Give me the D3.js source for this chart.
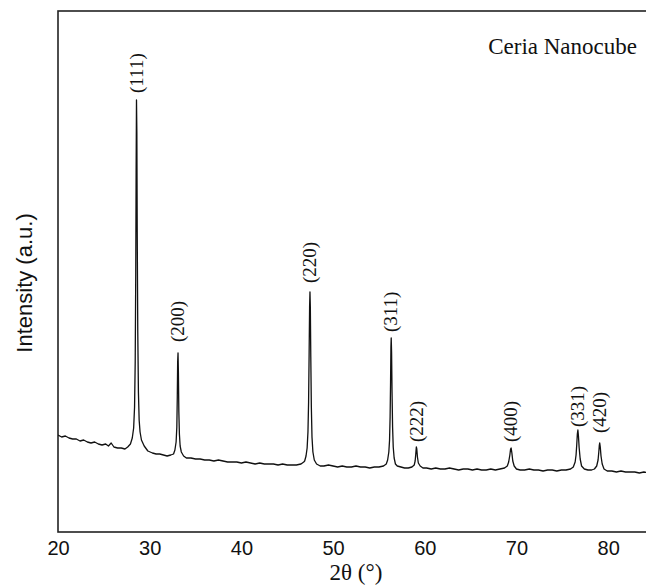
<!DOCTYPE html>
<html>
<head>
<meta charset="utf-8">
<script src="https://d3js.org/d3.v7.min.js"></script>
<style>
  body { margin: 0; background: #fff; }
  svg { display: block; }
</style>
</head>
<body>
<div id="container"></div>
<script>
  // DATA (2theta in degrees, intensity in arbitrary units)
  const xTicks = [20, 30, 40, 50, 60, 70, 80];
  const peakAngles = [28.56, 33.09, 47.48, 56.34, 59.08, 69.42, 76.7, 79.08];
  const peakLabels = ["(111)", "(200)", "(220)", "(311)", "(222)", "(400)", "(331)", "(420)"];
  const labelBase = [439, 190, 249, 200, 90, 90, 105, 99];
  const sampleName = "Ceria Nanocube";

  const scan = [
    [20.0, 97], [20.4, 95], [20.8, 96], [21.2, 94], [21.6, 93], [22.0, 93], [22.4, 91],
    [22.8, 92], [23.2, 90], [23.6, 89], [24.0, 90], [24.4, 88], [24.8, 87], [25.2, 88],
    [25.5, 86], [25.8, 89], [26.1, 85], [26.5, 84], [26.9, 84], [27.3, 83], [27.6, 85],
    [27.9, 88], [28.1, 94], [28.25, 104], [28.35, 125], [28.42, 170], [28.48, 260],
    [28.52, 360], [28.56, 432], [28.6, 400], [28.64, 300], [28.7, 200], [28.77, 140],
    [28.85, 112], [28.95, 100], [29.1, 92], [29.4, 86], [29.8, 81], [30.3, 79],
    [30.7, 78], [31.1, 78], [31.5, 77], [31.9, 76], [32.3, 77], [32.6, 78],
    [32.75, 82], [32.88, 90], [32.96, 105], [33.01, 135], [33.05, 170], [33.09, 179],
    [33.13, 160], [33.18, 120], [33.24, 98], [33.32, 86], [33.45, 80], [33.7, 76],
    [34.0, 74], [34.5, 74], [35.0, 73], [35.5, 73], [36.0, 72], [36.5, 72], [37.0, 71],
    [37.5, 72], [38.0, 71], [38.5, 70], [39.0, 70], [39.5, 70], [40.0, 69], [40.5, 70],
    [41.0, 69], [41.5, 68], [42.0, 69], [42.5, 68], [43.0, 68], [43.5, 68], [44.0, 67],
    [44.5, 68], [45.0, 67], [45.5, 67], [46.0, 67], [46.5, 68], [46.8, 70],
    [46.9, 71], [47.05, 76], [47.17, 84], [47.26, 100], [47.33, 130], [47.39, 180],
    [47.44, 225], [47.48, 240], [47.52, 225], [47.57, 175], [47.63, 125], [47.7, 95],
    [47.8, 80], [47.95, 72], [48.2, 68], [48.6, 66], [49.0, 66], [49.5, 67], [50.0, 66],
    [50.5, 65], [51.0, 66], [51.5, 65], [52.0, 65], [52.5, 66], [53.0, 65], [53.5, 65],
    [54.0, 64], [54.5, 65], [55.0, 65], [55.5, 66], [55.8, 68],
    [55.95, 72], [56.08, 80], [56.16, 92], [56.22, 115], [56.27, 150], [56.31, 185],
    [56.34, 194], [56.38, 180], [56.43, 140], [56.49, 105], [56.56, 85], [56.66, 74],
    [56.8, 68], [57.0, 66], [57.4, 65], [57.8, 64], [58.2, 64], [58.6, 65], [58.85, 67],
    [58.95, 71], [59.02, 78], [59.08, 85], [59.13, 83], [59.2, 75], [59.3, 69],
    [59.5, 66], [59.8, 64], [60.2, 64], [60.7, 63], [61.2, 64], [61.7, 63], [62.2, 63],
    [62.7, 64], [63.2, 63], [63.7, 62], [64.2, 63], [64.7, 63], [65.2, 62], [65.7, 63],
    [66.2, 62], [66.7, 62], [67.2, 63], [67.7, 62], [68.2, 63], [68.7, 64], [69.0, 66],
    [69.15, 70], [69.28, 77], [69.36, 83], [69.42, 84], [69.5, 79], [69.6, 71],
    [69.75, 66], [70.0, 63], [70.4, 62], [70.9, 62], [71.4, 63], [71.9, 62], [72.4, 62],
    [72.9, 61], [73.4, 62], [73.9, 62], [74.4, 61], [74.9, 62], [75.4, 62], [75.9, 63],
    [76.2, 65], [76.4, 70], [76.5, 77], [76.58, 88], [76.64, 98], [76.7, 102],
    [76.76, 96], [76.84, 84], [76.95, 73], [77.1, 66], [77.4, 63], [77.8, 62],
    [78.2, 62], [78.5, 63], [78.75, 66], [78.9, 72], [78.98, 80], [79.04, 87],
    [79.08, 89], [79.14, 85], [79.22, 76], [79.35, 68], [79.55, 63], [79.9, 61],
    [80.4, 61], [80.9, 60], [81.4, 61], [81.9, 60], [82.4, 60], [82.9, 60], [83.4, 59],
    [83.9, 60], [84.4, 59], [85.0, 59]
  ];

  // LAYOUT
  const width = 646, height = 585;
  const margin = { left: 58, top: 11, right: 654, bottom: 532 };

  const svg = d3.select("#container").append("svg")
    .attr("width", width)
    .attr("height", height);

  const xScale = d3.scaleLinear().domain([20, 85]).range([margin.left, margin.right]);
  const yScale = d3.scaleLinear().domain([0, 521]).range([margin.bottom, margin.top]);

  svg.append("defs").append("clipPath").attr("id", "plot")
    .append("rect")
    .attr("x", margin.left).attr("y", margin.top)
    .attr("width", margin.right - margin.left)
    .attr("height", margin.bottom - margin.top);

  // X AXIS (labels only)
  const xAxis = svg.append("g")
    .attr("transform", "translate(0," + margin.bottom + ")")
    .call(d3.axisBottom(xScale).tickValues(xTicks).tickSize(0).tickPadding(9));
  xAxis.select(".domain").remove();
  xAxis.selectAll("text")
    .attr("fill", "#111")
    .style("font-family", "'Liberation Sans', Arial, sans-serif")
    .style("font-size", "20px");

  // FRAME
  svg.append("rect")
    .attr("x", margin.left).attr("y", margin.top)
    .attr("width", margin.right - margin.left)
    .attr("height", margin.bottom - margin.top)
    .attr("fill", "none")
    .attr("stroke", "#222")
    .attr("stroke-width", 1.6);

  // TRACE
  const line = d3.line()
    .x(d => xScale(d[0]))
    .y(d => yScale(d[1]));

  svg.append("path")
    .attr("clip-path", "url(#plot)")
    .attr("fill", "none")
    .attr("stroke", "#111")
    .attr("stroke-width", 1.3)
    .attr("stroke-linejoin", "round")
    .attr("d", line(scan));

  // PEAK LABELS
  svg.selectAll(".peak")
    .data(peakLabels)
    .enter()
    .append("text")
    .attr("class", "peak")
    .attr("transform", (d, i) =>
      "translate(" + xScale(peakAngles[i]) + "," + yScale(labelBase[i]) + ") rotate(-90)")
    .attr("dy", "0.33em")
    .attr("text-anchor", "start")
    .style("font-family", "'Liberation Serif', 'Times New Roman', serif")
    .style("font-size", "19px")
    .attr("fill", "#111")
    .text(d => d);

  // SAMPLE NAME
  svg.append("text")
    .attr("x", 637)
    .attr("y", 54)
    .attr("text-anchor", "end")
    .style("font-family", "'Liberation Serif', 'Times New Roman', serif")
    .style("font-size", "23px")
    .attr("fill", "#111")
    .text(sampleName);

  // AXIS TITLES
  svg.append("text")
    .attr("x", (margin.left + margin.right) / 2)
    .attr("y", 580)
    .attr("text-anchor", "middle")
    .style("font-family", "'Liberation Serif', 'Times New Roman', serif")
    .style("font-size", "23px")
    .attr("fill", "#111")
    .text("2θ (°)");

  svg.append("text")
    .attr("transform", "translate(24,283) rotate(-90)")
    .attr("dy", "0.35em")
    .attr("text-anchor", "middle")
    .style("font-family", "'Liberation Sans', Arial, sans-serif")
    .style("font-size", "22px")
    .attr("fill", "#111")
    .text("Intensity (a.u.)");
</script>
</body>
</html>
